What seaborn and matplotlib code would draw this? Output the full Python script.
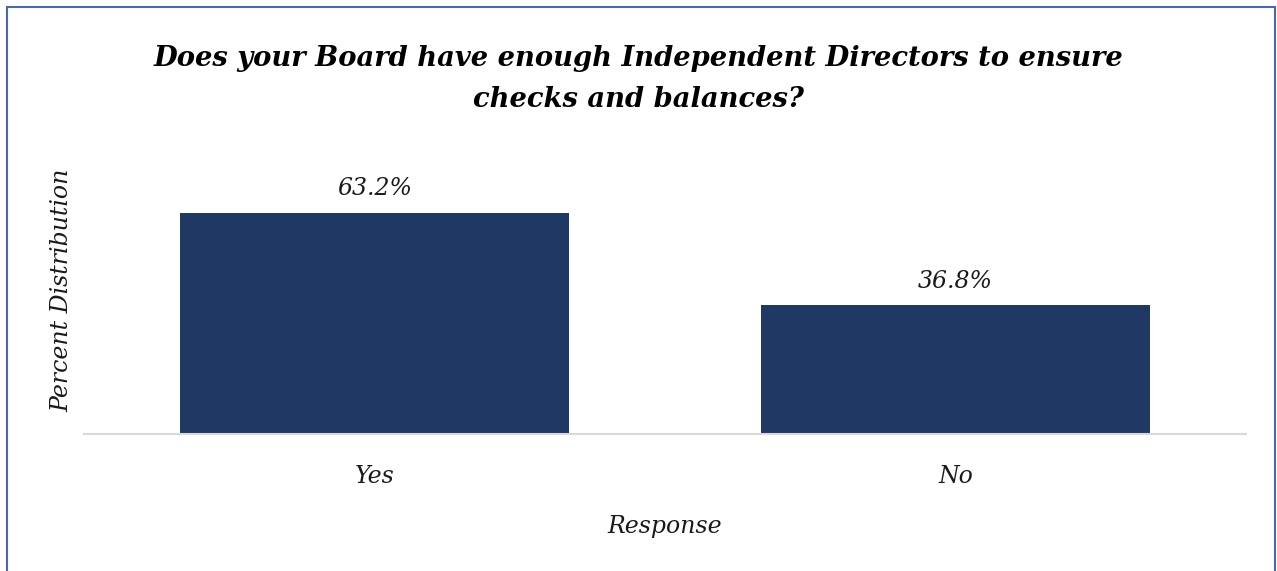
import matplotlib
matplotlib.use("Agg")
import matplotlib.pyplot as plt
import seaborn as sns
import pandas as pd
from matplotlib.patches import Rectangle

categories = ["Yes", "No"]
percents = [63.2, 36.8]
value_labels = ["63.2%", "36.8%"]

title = "Does your Board have enough Independent Directors to ensure\nchecks and balances?"
x_title = "Response"
y_title = "Percent Distribution"

bar_color = "#203864"
frame_color = "#4A69A8"

sns.set_theme(style="white")
plt.rcParams["font.family"] = ["DejaVu Serif"]

df = pd.DataFrame({"Response": categories, "Percent": percents})

fig = plt.figure(figsize=(12.77, 5.71), dpi=100)
ax = fig.add_axes([84 / 1277, 1 - 434 / 571, 1162 / 1277, 245 / 571])

sns.barplot(data=df, x="Response", y="Percent", color=bar_color, width=0.67,
            saturation=1, linewidth=0, ax=ax)
ax.set_xlim(-0.5, 1.5)
ax.set_ylim(0, 70)

for patch, lab in zip(ax.patches, value_labels):
    ax.annotate(lab, (patch.get_x() + patch.get_width() / 2, patch.get_height()),
                xytext=(0, 9), textcoords="offset points", ha="center", va="bottom",
                fontsize=17, style="italic", color="#1a1a1a")

for s in ["top", "right", "left"]:
    ax.spines[s].set_visible(False)
ax.spines["bottom"].set_color("#d9d9d9")
ax.spines["bottom"].set_linewidth(1.5)
ax.set_yticks([])
ax.tick_params(axis="x", length=0, pad=22, labelsize=17)
for t in ax.get_xticklabels():
    t.set_fontstyle("italic")
    t.set_color("#1a1a1a")

ax.set_xlabel(x_title, fontsize=17, style="italic", color="#1a1a1a", labelpad=20)
ax.set_ylabel(y_title, fontsize=17, style="italic", color="#1a1a1a")
ax.yaxis.set_label_coords(-0.0095, 0.588)

fig.text(0.5, 1 - 79 / 571, title, ha="center", va="center", fontsize=19.7,
         style="italic", weight="bold", color="#000000", linespacing=1.65)

fig.patches.append(Rectangle((6.5 / 1277, -0.05), (1275 - 6.5) / 1277, 1.05 - 7.5 / 571,
                             transform=fig.transFigure, fill=False,
                             edgecolor=frame_color, linewidth=1.5))

fig.savefig("out.png", dpi=100, facecolor="white")
